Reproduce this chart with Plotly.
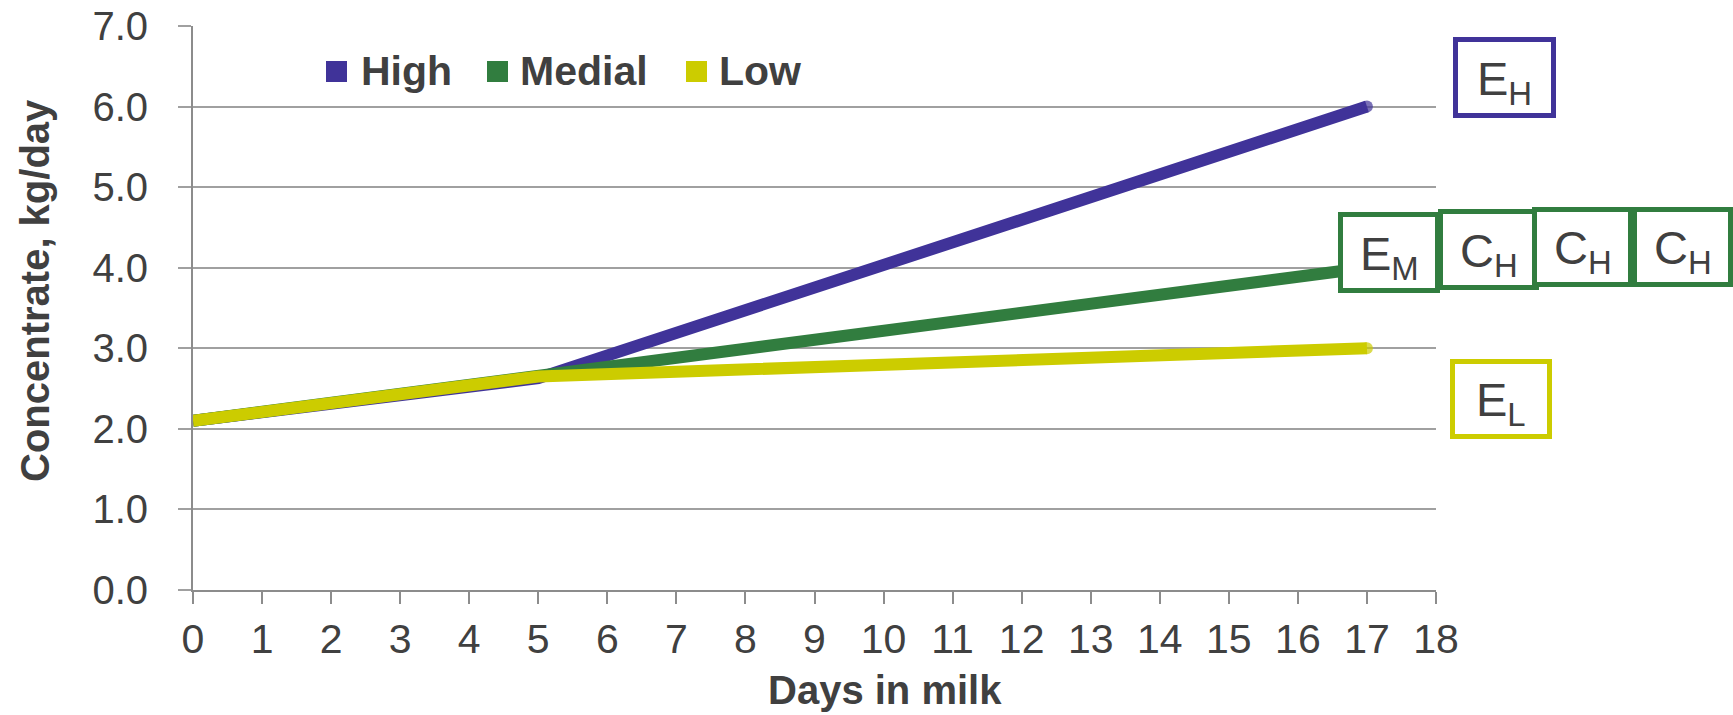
import plotly.graph_objects as go

# ---- data -------------------------------------------------------------
days = [0, 5, 17]
high = [2.1, 2.63, 6.0]
medial = [2.1, 2.65, 4.0]
low = [2.1, 2.65, 3.0]

series_names = ["High", "Medial", "Low"]
series_values = [high, medial, low]
series_colors = ["#403399", "#317d3f", "#cccc00"]

x_ticks = list(range(0, 19))
y_ticks = [0, 1, 2, 3, 4, 5, 6, 7]
y_tick_labels = [f"{v:.1f}" for v in y_ticks]

# group labels: (main letter, subscript, colour index)
group_labels = [
    ("E", "H", 0),
    ("E", "M", 1),
    ("C", "H", 1),
    ("C", "H", 1),
    ("C", "H", 1),
    ("E", "L", 2),
]

# ---- page geometry ----------------------------------------------------
W, H = 1733, 715
ML, MR, MT, MB = 193, 297, 26, 125
PW, PH = W - ML - MR, H - MT - MB

TEXT = "#404040"
GRID = "#a0a0a0"
AXIS = "#8c8c8c"
FONT = "Liberation Sans, Arial, sans-serif"


def fx(px):
    return (px - ML) / PW


def fy(py):
    return (H - MB - py) / PH


fig = go.Figure()

for name, vals, col in zip(series_names, series_values, series_colors):
    fig.add_trace(go.Scatter(
        x=days, y=vals, name=name, mode="lines+markers",
        line=dict(color=col, width=12),
        marker=dict(color=col, size=[0] * (len(days) - 1) + [12], line=dict(width=0)),
        showlegend=False, hoverinfo="x+y+name",
    ))

shapes = []
annotations = []

# legend: coloured squares with bold labels
legend_pos = [(326, 359), (487, 518), (686, 717)]
for (sq_x, tx_x), name, col in zip(legend_pos, series_names, series_colors):
    shapes.append(dict(type="rect", xref="paper", yref="paper",
                       x0=fx(sq_x), x1=fx(sq_x + 21), y0=fy(61), y1=fy(82),
                       fillcolor=col, line=dict(width=0), layer="above"))
    annotations.append(dict(text=f"<b>{name}</b>", xref="paper", yref="paper",
                            x=fx(tx_x), y=fy(71), xanchor="left", yanchor="middle",
                            showarrow=False, font=dict(size=41, color=TEXT, family=FONT)))

# labelled boxes to the right of the plot
box_rects = [
    (1453, 37, 1556, 118),
    (1338, 212, 1440, 293),
    (1438, 209, 1539, 290),
    (1532, 207, 1633, 287),
    (1632, 207, 1733, 287),
    (1450, 359, 1552, 439),
]
bw = 5
for (main, sub, ci), (x0, y0, x1, y1) in zip(group_labels, box_rects):
    shapes.append(dict(type="rect", xref="paper", yref="paper",
                       x0=fx(x0 + bw / 2), x1=fx(x1 - bw / 2),
                       y0=fy(y0 + bw / 2), y1=fy(y1 - bw / 2),
                       fillcolor="white", line=dict(color=series_colors[ci], width=bw),
                       layer="above"))
    annotations.append(dict(text=f"{main}<sub>{sub}</sub>", xref="paper", yref="paper",
                            x=fx((x0 + x1) / 2), y=fy((y0 + y1) / 2 + 4),
                            xanchor="center", yanchor="middle", showarrow=False,
                            font=dict(size=47, color=TEXT, family=FONT)))

# axis titles
annotations.append(dict(text="<b>Days in milk</b>", xref="paper", yref="paper",
                        x=fx(885), y=fy(690), xanchor="center", yanchor="middle",
                        showarrow=False, font=dict(size=40, color=TEXT, family=FONT)))
annotations.append(dict(text="<b>Concentrate, kg/day</b>", xref="paper", yref="paper",
                        x=fx(35), y=fy(291), xanchor="center", yanchor="middle",
                        textangle=-90, showarrow=False,
                        font=dict(size=40, color=TEXT, family=FONT)))

fig.update_layout(
    width=W, height=H,
    margin=dict(l=ML, r=MR, t=MT, b=MB, pad=0, autoexpand=False),
    paper_bgcolor="white", plot_bgcolor="white",
    font=dict(family=FONT, color=TEXT, size=40),
    shapes=shapes, annotations=annotations,
    showlegend=False,
    xaxis=dict(range=[0, 18], tickvals=x_ticks, ticktext=[str(v) for v in x_ticks],
               showgrid=False, zeroline=False, automargin=False,
               showline=True, linecolor=AXIS, linewidth=2,
               ticks="outside", ticklen=12, tickwidth=2, tickcolor=AXIS,
               ticklabelstandoff=0,
               tickfont=dict(size=41, color=TEXT, family=FONT), fixedrange=True),
    yaxis=dict(range=[0, 7], tickvals=y_ticks, ticktext=y_tick_labels,
               showgrid=True, gridcolor=GRID, gridwidth=2, zeroline=False,
               automargin=False,
               showline=True, linecolor=AXIS, linewidth=2,
               ticks="outside", ticklen=13, tickwidth=2, tickcolor=GRID,
               ticklabelstandoff=22,
               tickfont=dict(size=40, color=TEXT, family=FONT), fixedrange=True),
)

fig.write_html("out.html")
